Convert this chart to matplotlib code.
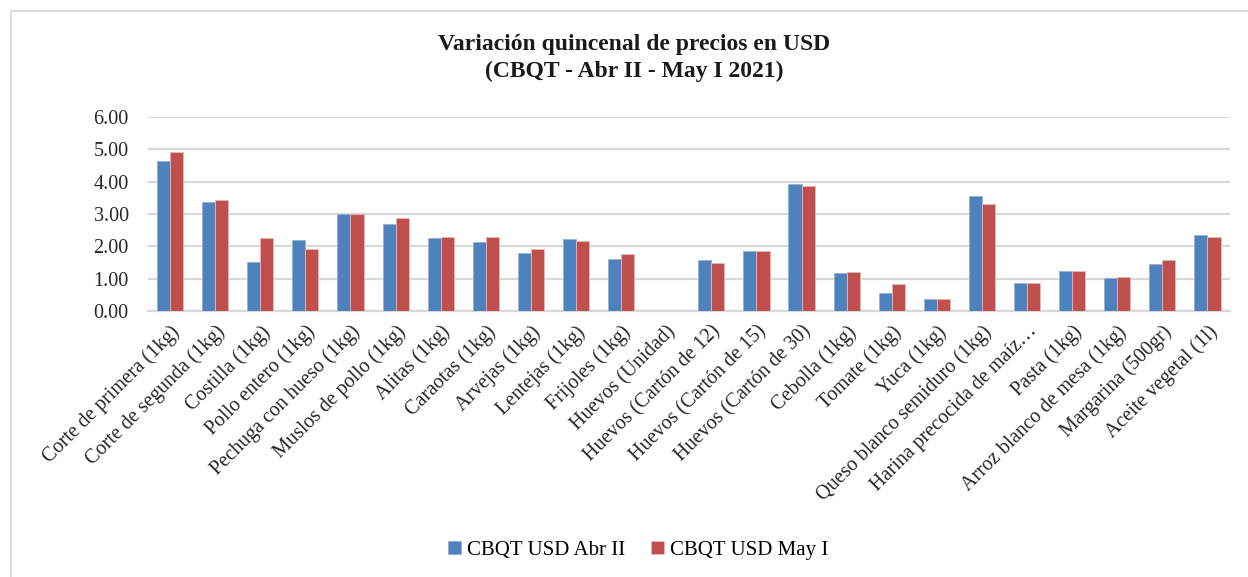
#!/usr/bin/env python3
"""Variacion quincenal de precios en USD - CBQT Abr II vs May I 2021."""
import numpy as np
import matplotlib
matplotlib.use("Agg")
import matplotlib.pyplot as plt
from matplotlib.lines import Line2D

productos = [
    "Corte de primera (1kg)", "Corte de segunda (1kg)", "Costilla (1kg)",
    "Pollo entero (1kg)", "Pechuga con hueso (1kg)", "Muslos de pollo (1kg)",
    "Alitas (1kg)", "Caraotas (1kg)", "Arvejas (1kg)", "Lentejas (1kg)",
    "Frijoles (1kg)", "Huevos (Unidad)", "Huevos (Cartón de 12)",
    "Huevos (Cartón de 15)", "Huevos (Cartón de 30)", "Cebolla (1kg)",
    "Tomate (1kg)", "Yuca (1kg)", "Queso blanco semiduro (1kg)",
    "Harina precocida de maíz…", "Pasta (1kg)", "Arroz blanco de mesa (1kg)",
    "Margarina (500gr)", "Aceite vegetal (1l)",
]
abr_ii = [4.64, 3.37, 1.53, 2.21, 3.01, 2.70, 2.25, 2.14, 1.78, 2.22, 1.62, 0.0,
          1.58, 1.85, 3.93, 1.19, 0.55, 0.36, 3.57, 0.88, 1.23, 1.03, 1.46, 2.36]
may_i = [4.93, 3.43, 2.26, 1.93, 3.01, 2.89, 2.28, 2.29, 1.93, 2.17, 1.76, 0.0,
         1.50, 1.87, 3.87, 1.22, 0.84, 0.36, 3.30, 0.86, 1.24, 1.04, 1.59, 2.30]
series = ["CBQT USD Abr II", "CBQT USD May I"]

AZUL = "#4F81BD"
ROJO = "#C0504D"
GRIS = "#D9D9D9"

plt.rcParams["font.family"] = ["Liberation Serif", "DejaVu Serif"]

fig = plt.figure(figsize=(12.48, 5.77), dpi=100)
ax = fig.add_axes([0.1182, 0.461, 0.8674, 0.336])

x = np.arange(len(productos))
w = 0.29
ax.bar(x - w / 2, abr_ii, w, color=AZUL, edgecolor="#95B3D7", linewidth=0.6,
       label=series[0], zorder=3)
ax.bar(x + w / 2, may_i, w, color=ROJO, edgecolor="#E6B9B8", linewidth=0.6,
       label=series[1], zorder=3)

ax.set_xlim(-0.5, len(productos) - 0.5)
ax.set_ylim(0, 6)
ax.set_yticks(np.arange(0, 7, 1))
ax.set_yticklabels([f"{v:.2f}" for v in np.arange(0, 7, 1)], fontsize=14.5,
                   color="#262626")
ax.yaxis.grid(True, color=GRIS, linewidth=1.6, zorder=0)
ax.set_axisbelow(True)
for s in ["top", "right", "left"]:
    ax.spines[s].set_visible(False)
ax.spines["bottom"].set_color(GRIS)
ax.spines["bottom"].set_linewidth(1.6)
ax.tick_params(axis="y", length=0, pad=13.5)
ax.tick_params(axis="x", length=0, pad=8)

ax.set_xticks(x)
ax.set_xticklabels(productos, rotation=45, ha="right", rotation_mode="anchor",
                   fontsize=14.5, color="#262626")

fig.text(0.508, 0.899, "Variación quincenal de precios en USD\n(CBQT - Abr II - May I 2021)",
         ha="center", va="center", fontsize=17, fontweight="bold",
         color="#1a1a1a", linespacing=1.35)

fig.legend(loc="center", bbox_to_anchor=(0.5116, 0.046), ncol=2, frameon=False,
           fontsize=15, handlelength=0.6, handleheight=0.6, handletextpad=0.3,
           columnspacing=1.25)

# marco gris del area del grafico
fig.add_artist(Line2D([11 / 1248, 11 / 1248], [0, 1 - 11 / 577], color=GRIS,
                      linewidth=1.4, transform=fig.transFigure))
fig.add_artist(Line2D([11 / 1248, 1], [1 - 11 / 577, 1 - 11 / 577], color=GRIS,
                      linewidth=1.4, transform=fig.transFigure))

fig.savefig("out.png", dpi=100)
